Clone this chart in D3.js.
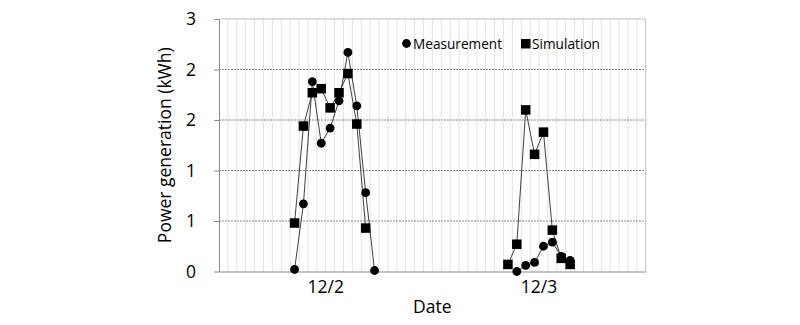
<!DOCTYPE html>
<html>
<head>
<meta charset="utf-8">
<script src="https://cdn.jsdelivr.net/npm/d3@7"></script>
<style>
  body { margin: 0; background: #fff; }
  svg { display: block; font-family: "Open Sans", sans-serif; }
</style>
</head>
<body>
<div id="chart"></div>
<script>
// dates on the category axis, 24 hourly slots each
var days = ["12/2", "12/3"];
var slotsPerDay = 24;

// measured output: slot index (0..47) and value in kWh
var measSlot  = [8, 9, 10, 11, 12, 13, 14, 15, 16, 17, 33, 34, 35, 36, 37, 38, 39];
var measValue = [0.02, 0.67, 1.88, 1.27, 1.42, 1.69, 2.17, 1.64, 0.78, 0.01, 0.0, 0.06, 0.09, 0.25, 0.29, 0.15, 0.11];

// simulated output
var simSlot  = [8, 9, 10, 11, 12, 13, 14, 15, 16, 32, 33, 34, 35, 36, 37, 38, 39];
var simValue = [0.48, 1.44, 1.77, 1.81, 1.62, 1.77, 1.96, 1.46, 0.43, 0.07, 0.27, 1.60, 1.16, 1.38, 0.41, 0.13, 0.07];

// y axis: Excel shows the 0.5 steps rounded to whole numbers
var yTicks = [0, 0.5, 1, 1.5, 2, 2.5];
var yTickLabels = ["0", "1", "1", "2", "2", "3"];

var w = 800, h = 325;
var plotL = 219, plotR = 645.7, plotT = 19, plotB = 271.5;

var svg = d3.select("#chart").append("svg")
  .attr("width", w)
  .attr("height", h);

var slots = d3.range(days.length * slotsPerDay);
var x = d3.scaleBand().domain(slots).range([plotL, plotR]).padding(0);
var xDay = d3.scaleBand().domain(days).range([plotL, plotR]).padding(0);
var y = d3.scaleLinear().domain([0, 2.5]).range([plotB, plotT]);

// vertical gridlines at every slot boundary
svg.append("g").selectAll("line")
  .data(slots.slice(1))
  .enter().append("line")
  .attr("x1", function(d) { return x(d); })
  .attr("x2", function(d) { return x(d); })
  .attr("y1", plotT)
  .attr("y2", plotB)
  .attr("stroke", "#e3e3e3")
  .attr("stroke-width", 1);

// horizontal dotted gridlines
svg.append("g").selectAll("line")
  .data(yTicks.slice(1, -1))
  .enter().append("line")
  .attr("x1", plotL)
  .attr("x2", plotR)
  .attr("y1", function(d) { return y(d); })
  .attr("y2", function(d) { return y(d); })
  .attr("stroke", "#8a8a8a")
  .attr("stroke-width", 1)
  .attr("stroke-dasharray", "2,1");

// top and right border
svg.append("line").attr("x1", plotL).attr("x2", plotR).attr("y1", y(2.5)).attr("y2", y(2.5))
  .attr("stroke", "#c0c0c0");
svg.append("line").attr("x1", plotR).attr("x2", plotR).attr("y1", plotT).attr("y2", plotB)
  .attr("stroke", "#c0c0c0");

// y axis
var yAxis = svg.append("g")
  .attr("transform", "translate(" + plotL + ",0)")
  .call(d3.axisLeft(y)
    .tickValues(yTicks)
    .tickFormat(function(d, i) { return yTickLabels[i]; })
    .tickSizeInner(5)
    .tickSizeOuter(0)
    .tickPadding(18));
yAxis.select(".domain").attr("stroke", "#8a8a8a");
yAxis.selectAll(".tick line").attr("stroke", "#8a8a8a");
yAxis.selectAll("text")
  .attr("font-family", "Open Sans, sans-serif")
  .attr("font-size", "17.5px")
  .attr("fill", "#000");

// x axis: one label per day, centred on its 24 slots
var xAxis = svg.append("g")
  .attr("transform", "translate(0," + plotB + ")")
  .call(d3.axisBottom(xDay).tickSize(0).tickPadding(9));
xAxis.select(".domain").attr("stroke", "#8a8a8a");
xAxis.selectAll("text")
  .attr("font-family", "Open Sans, sans-serif")
  .attr("font-size", "17.5px")
  .attr("fill", "#000");

// axis titles
svg.append("text")
  .attr("x", (plotL + plotR) / 2)
  .attr("y", 313)
  .attr("text-anchor", "middle")
  .attr("font-size", "17.5px")
  .text("Date");

svg.append("text")
  .attr("transform", "translate(171," + ((plotT + plotB) / 2) + ") rotate(-90)")
  .attr("text-anchor", "middle")
  .attr("font-size", "17.5px")
  .text("Power generation (kWh)");

// build full 48-slot series with gaps
function series(slotArr, valArr) {
  var s = slots.map(function() { return null; });
  slotArr.forEach(function(k, i) { s[k] = valArr[i]; });
  return s;
}
var meas = series(measSlot, measValue);
var sim = series(simSlot, simValue);

var cx = function(i) { return x(i) + x.bandwidth() / 2; };
var line = d3.line()
  .defined(function(d) { return d !== null; })
  .x(function(d, i) { return cx(i); })
  .y(function(d) { return y(d); });

svg.append("path").datum(sim)
  .attr("d", line).attr("fill", "none")
  .attr("stroke", "#404040").attr("stroke-width", 1);
svg.append("path").datum(meas)
  .attr("d", line).attr("fill", "none")
  .attr("stroke", "#404040").attr("stroke-width", 1);

var sq = 9.5;
svg.append("g").selectAll("rect")
  .data(simSlot)
  .enter().append("rect")
  .attr("x", function(d) { return cx(d) - sq / 2; })
  .attr("y", function(d, i) { return y(simValue[i]) - sq / 2; })
  .attr("width", sq)
  .attr("height", sq)
  .attr("fill", "#000");

svg.append("g").selectAll("circle")
  .data(measSlot)
  .enter().append("circle")
  .attr("cx", function(d) { return cx(d); })
  .attr("cy", function(d, i) { return y(measValue[i]); })
  .attr("r", 4.4)
  .attr("fill", "#000");

// legend
var lg = svg.append("g").attr("font-size", "15px");
lg.append("circle").attr("cx", 406.5).attr("cy", 43.5).attr("r", 4.4).attr("fill", "#000");
lg.append("text").attr("x", 413).attr("y", 49).text("Measurement")
  .attr("textLength", 89).attr("lengthAdjust", "spacingAndGlyphs");
lg.append("rect").attr("x", 521).attr("y", 39).attr("width", 9.5).attr("height", 9.5).attr("fill", "#000");
lg.append("text").attr("x", 532).attr("y", 49).text("Simulation")
  .attr("textLength", 68).attr("lengthAdjust", "spacingAndGlyphs");
</script>
</body>
</html>
